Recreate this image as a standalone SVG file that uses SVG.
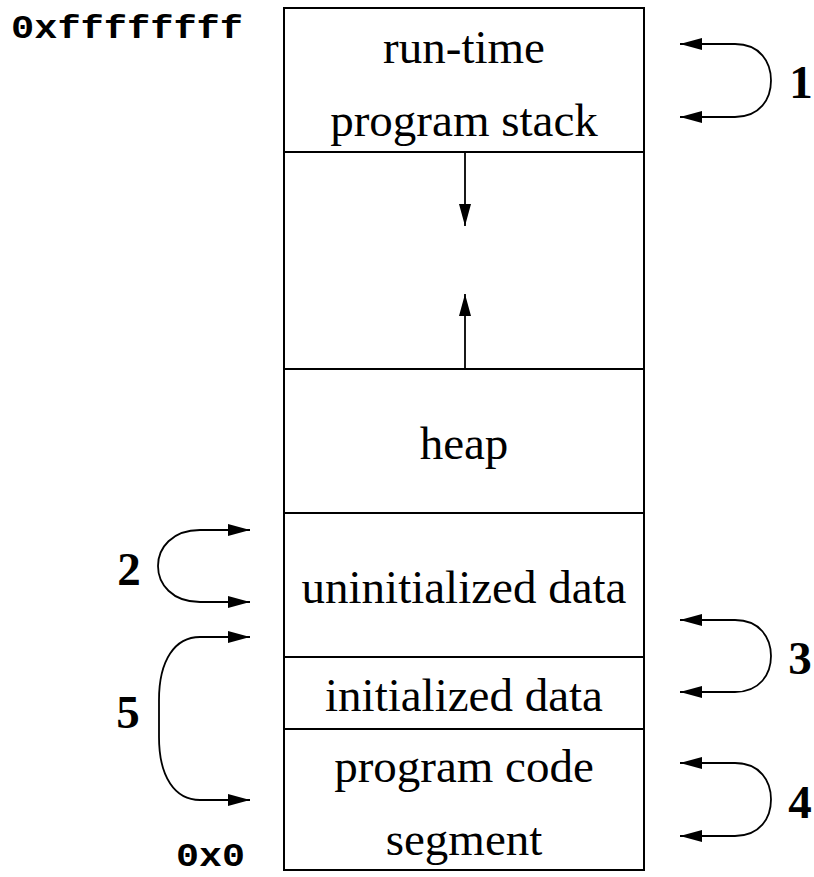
<svg xmlns="http://www.w3.org/2000/svg" width="814" height="877" viewBox="0 0 814 877">
  <style>
    .box { fill: none; stroke: #000; stroke-width: 2; }
    .div { stroke: #000; stroke-width: 2; }
    .lbl { font-family: "Liberation Serif", "Times New Roman", serif; font-size: 47px; fill: #000; text-anchor: middle; }
    .num { font-family: "Liberation Serif", "Times New Roman", serif; font-size: 47px; font-weight: bold; fill: #000; text-anchor: middle; }
    .addr { font-family: "Liberation Mono", "Courier New", monospace; font-size: 33px; font-weight: bold; fill: #000; }
    .arr { fill: none; stroke: #000; stroke-width: 1.8; }
  </style>
  <defs>
    <marker id="head" markerUnits="userSpaceOnUse" markerWidth="23" markerHeight="13" refX="22" refY="6" orient="auto-start-reverse">
      <path d="M0,0 L22,6 L0,12 z" fill="#000"/>
    </marker>
  </defs>
  <rect width="814" height="877" fill="#fff"/>

  <!-- address labels -->
  <text class="addr" x="11" y="38" textLength="232" lengthAdjust="spacingAndGlyphs">0xffffffff</text>
  <text class="addr" x="176" y="866" textLength="69" lengthAdjust="spacingAndGlyphs">0x0</text>

  <!-- memory column -->
  <g id="memory">
    <rect class="box" x="284" y="8" width="360" height="862"/>
  </g>
  <g id="stack">
    <line class="div" x1="284" y1="152" x2="644" y2="152"/>
    <text class="lbl" x="464" y="63">run-time</text>
    <text class="lbl" x="464" y="136">program stack</text>
  </g>
  <g id="free-space">
    <line class="div" x1="284" y1="369" x2="644" y2="369"/>
  </g>
  <g id="heap">
    <line class="div" x1="284" y1="513" x2="644" y2="513"/>
    <text class="lbl" x="464" y="459">heap</text>
  </g>
  <g id="bss">
    <line class="div" x1="284" y1="657" x2="644" y2="657"/>
    <text class="lbl" x="464" y="603">uninitialized data</text>
  </g>
  <g id="data">
    <line class="div" x1="284" y1="729" x2="644" y2="729"/>
    <text class="lbl" x="464" y="711">initialized data</text>
  </g>
  <g id="text-segment">
    <text class="lbl" x="464" y="782">program code</text>
    <text class="lbl" x="464" y="855">segment</text>
  </g>

  <!-- growth arrows and segment brackets -->
  <g id="connectors">
    <line class="arr" x1="465" y1="152" x2="465" y2="226" marker-end="url(#head)"/>
    <line class="arr" x1="465" y1="369" x2="465" y2="294" marker-end="url(#head)"/>

    <path class="arr" d="M680 44 H735 C760 44 771 62 771 80.5 C771 99 760 117 735 117 H680" marker-start="url(#head)" marker-end="url(#head)"/>
    <path class="arr" d="M250 530 H200 C172 530 158 548 158 566 C158 584 172 602 200 602 H250" marker-start="url(#head)" marker-end="url(#head)"/>
    <path class="arr" d="M680 620 H735 C760 620 771 638 771 656 C771 674 760 692 735 692 H680" marker-start="url(#head)" marker-end="url(#head)"/>
    <path class="arr" d="M680 763 H735 C760 763 771 781 771 799.5 C771 818 760 836 735 836 H680" marker-start="url(#head)" marker-end="url(#head)"/>
    <path class="arr" d="M250 637 H200 C175 637 159 660 159 700 V737 C159 777 175 800 200 800 H250" marker-start="url(#head)" marker-end="url(#head)"/>
  </g>

  <!-- bracket numbers -->
  <g id="numbers">
    <text class="num" x="801" y="98">1</text>
    <text class="num" x="129" y="585">2</text>
    <text class="num" x="800" y="674">3</text>
    <text class="num" x="800" y="818">4</text>
    <text class="num" x="128" y="728">5</text>
  </g>
</svg>
